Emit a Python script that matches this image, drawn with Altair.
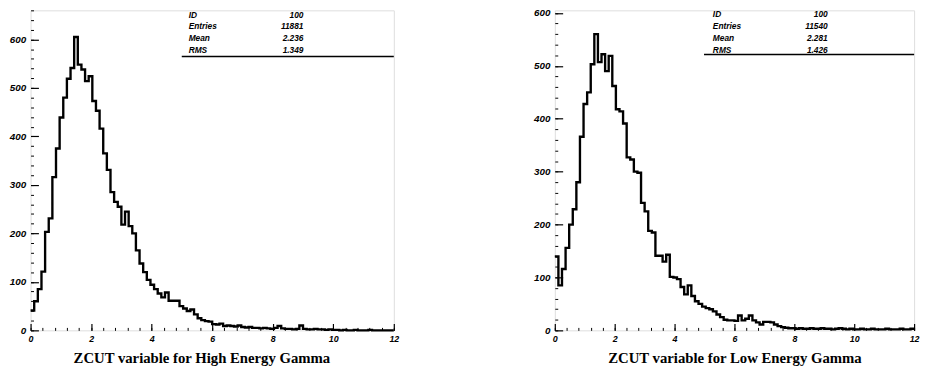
import altair as alt
import pandas as pd

BIN_WIDTH = 0.12
N_BINS = 100

high_counts = [41, 60, 85, 121, 203, 231, 316, 375, 439, 480,
               519, 541, 605, 548, 538, 514, 524, 473, 453, 416,
               365, 331, 285, 265, 255, 218, 245, 215, 200, 165,
               138, 120, 104, 94, 85, 76, 68, 78, 61, 61,
               61, 50, 45, 40, 43, 33, 25, 21, 19, 18,
               13, 12, 14, 9, 10, 9, 8, 10, 7, 6,
               7, 5, 5, 4, 5, 4, 3, 5, 9, 4,
               3, 3, 2, 3, 10, 3, 2, 2, 3, 2,
               2, 1, 2, 1, 1, 0, 1, 0, 0, 1,
               0, 0, 0, 1, 0, 0, 0, 0, 0, 0]

low_counts = [140, 85, 116, 156, 200, 229, 280, 366, 428, 450,
              503, 560, 507, 522, 490, 519, 462, 418, 414, 391,
              327, 323, 300, 298, 241, 225, 188, 185, 141, 141,
              130, 143, 101, 100, 97, 82, 68, 85, 65, 55,
              50, 45, 42, 40, 36, 30, 25, 20, 19, 19,
              18, 28, 19, 22, 28, 19, 15, 11, 16, 16,
              15, 11, 8, 6, 5, 4, 4, 3, 4, 3,
              3, 4, 3, 3, 4, 3, 3, 2, 3, 4,
              3, 2, 3, 2, 2, 3, 2, 2, 3, 2,
              2, 2, 3, 2, 2, 2, 3, 2, 2, 3]

x_major = [0, 2, 4, 6, 8, 10, 12]
x_minor = [round(i * 0.4, 2) for i in range(31)]
y_major = [0, 100, 200, 300, 400, 500, 600]
y_minor = [i * 20 for i in range(34)]

stat_names = ["ID", "Entries", "Mean", "RMS"]
high_stats = ["100", "11881", "2.236", "1.349"]
low_stats = ["100", "11540", "2.281", "1.426"]

high_title = "ZCUT variable for High Energy Gamma"
low_title = "ZCUT variable for Low Energy Gamma"

LBL_FONT = "Liberation Sans"
TITLE_FONT = "Liberation Serif"


def panel(counts, ymax, title, stats, width, height, title_x, row_y, line_y, box_left):
    edges = [round(i * BIN_WIDTH, 2) for i in range(N_BINS + 1)]
    df = pd.DataFrame({"z": edges, "n": counts + [counts[-1]]})
    xs = alt.Scale(domain=[0, 12], nice=False, zero=False)
    ys = alt.Scale(domain=[0, ymax], nice=False)
    base = alt.Chart(df)

    xaxis_kw = dict(values=x_major, tickSize=7, offset=-7, domain=False, grid=False,
                    labelFont=LBL_FONT, labelFontSize=9, labelFontWeight="bold",
                    labelFontStyle="italic", labelPadding=4, labelFlush=False,
                    labelColor="black", tickColor="black", tickWidth=1.2,
                    title=title, titleFont=TITLE_FONT, titleFontSize=15,
                    titleFontWeight="bold", titleColor="black", titlePadding=8,
                    orient="bottom")
    if title_x is not None:
        xaxis_kw["titleX"] = title_x

    hist = base.mark_line(interpolate="step-after", color="black", strokeWidth=2.4).encode(
        x=alt.X("z:Q", scale=xs, axis=alt.Axis(**xaxis_kw)),
        y=alt.Y("n:Q", scale=ys, axis=alt.Axis(
            values=y_major, tickSize=8, offset=-8, domain=False, grid=False,
            labelFont=LBL_FONT, labelFontSize=10, labelFontWeight="bold",
            labelFontStyle="italic", labelPadding=5, labelColor="black",
            tickColor="black", tickWidth=1.2, title=None, orient="left")),
    )
    minor = base.mark_line(strokeOpacity=0).encode(
        x=alt.X("z:Q", scale=xs, axis=alt.Axis(
            values=x_minor, tickSize=3, offset=-3, domain=False, grid=False,
            labels=False, title=None, tickColor="black", orient="bottom")),
        y=alt.Y("n:Q", scale=ys, axis=alt.Axis(
            values=y_minor, tickSize=3, offset=-3, domain=False, grid=False,
            labels=False, title=None, tickColor="black", orient="left")),
    )
    layers = [hist, minor]
    one = pd.DataFrame({"a": [0]})
    txt = dict(baseline="middle", fontSize=8.5, font=LBL_FONT, fontWeight="bold",
               fontStyle="italic", color="black")
    for i, (nm, vl) in enumerate(zip(stat_names, stats)):
        yy = row_y + i * 12
        layers.append(alt.Chart(one).mark_text(align="left", text=nm, **txt).encode(
            x=alt.value(161), y=alt.value(yy)))
        layers.append(alt.Chart(one).mark_text(align="right", text=vl, **txt).encode(
            x=alt.value(278), y=alt.value(yy)))
    layers.append(alt.Chart(one).mark_rule(color="black", strokeWidth=1.5).encode(
        x=alt.value(box_left), x2=alt.value(width), y=alt.value(line_y)))

    return alt.layer(*layers).resolve_axis(
        x="independent", y="independent").properties(width=width, height=height)


left = panel(high_counts, 660, high_title, high_stats, 370, 326, 174, 4.5, 47, 154)
right = panel(low_counts, 605, low_title, low_stats, 366, 326, None, 4, 45, 152)

chart = alt.hconcat(left, right, spacing=135).properties(
    padding={"left": 0, "top": -4, "right": 0, "bottom": 0}
).configure_view(stroke="black", strokeWidth=2).configure(background="white")

chart.save("out.html", embed_options={"renderer": "svg", "actions": False})
